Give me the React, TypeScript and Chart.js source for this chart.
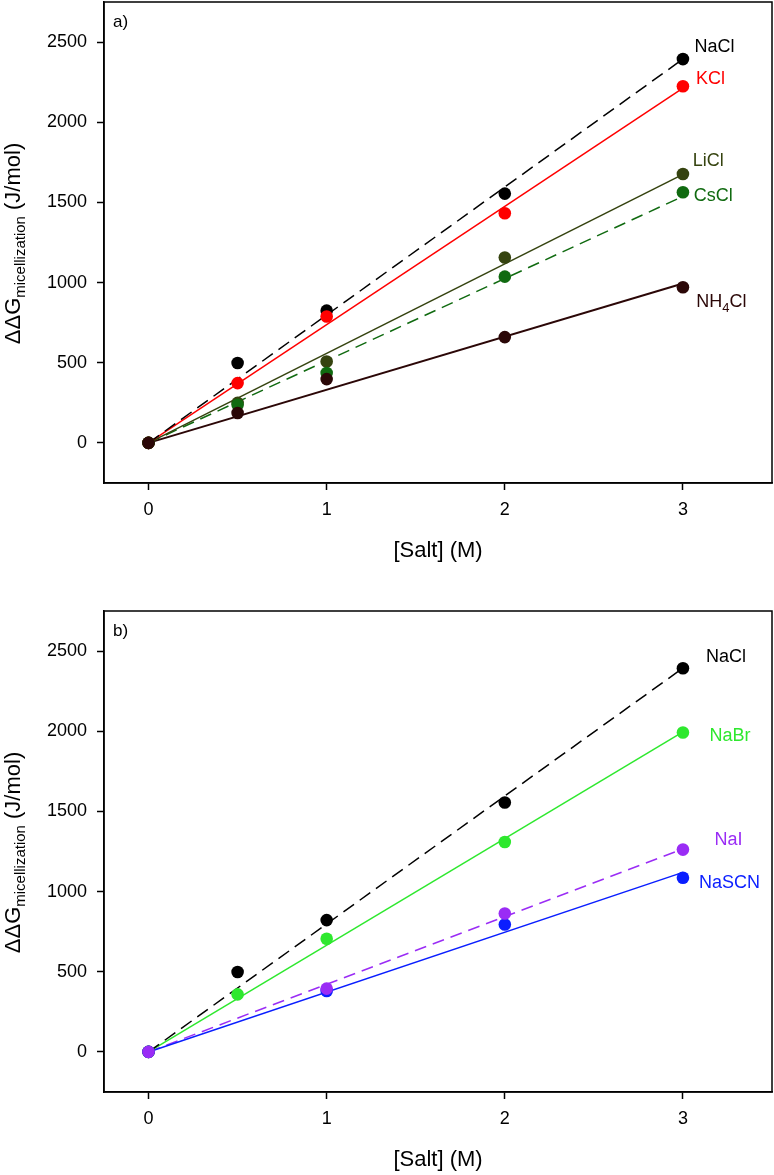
import { useEffect, useRef } from "react";
import { Chart, registerables } from "chart.js";

Chart.register(...registerables);

const FONT = '"Liberation Sans", Arial, Helvetica, sans-serif';

// ---------- data ----------
const saltA = [0, 0.5, 1, 2, 3];
const naclA = [0, 498, 825, 1555, 2394];
const kclA = [0, 373, 788, 1432, 2225];
const liclA = [0, 250, 508, 1156, 1677];
const csclA = [0, 238, 436, 1037, 1563];
const nh4clA = [0, 187, 398, 660, 971];

const saltB = [0, 0.5, 1, 2, 3];
const naclB = [0, 498, 822, 1556, 2393];
const nabrB = [0, 359, 706, 1309, 1992];
const naiB = [0, null, 395, 863, 1262];
const nascnB = [0, null, 380, 795, 1086];

// fitted straight lines, read at x = 0 and x = 3
const fitX = [0, 3];
const naclFitA = [0, 2394];
const kclFitA = [0, 2213];
const liclFitA = [0, 1675];
const csclFitA = [0, 1538];
const nh4clFitA = [0, 994];
const naclFitB = [0, 2394];
const nabrFitB = [0, 1996];
const naiFitB = [0, 1266];
const nascnFitB = [0, 1120];

const yTicks = [0, 500, 1000, 1500, 2000, 2500];
const xTicks = [0, 1, 2, 3];

// ---------- styles ----------
type Part = { t: string; sub?: boolean };
type Series = {
  label: Part[];
  color: string;
  x: number[];
  y: (number | null)[];
  fit: number[];
  dash: number[];
  lw: number;
  order: number;
  dx: number;
  dy: number;
};

const seriesA: Series[] = [
  { label: [{ t: "NaCl" }], color: "#000000", x: saltA, y: naclA, fit: naclFitA, dash: [13, 7], lw: 1.5, order: 10, dx: 11.5, dy: -7 },
  { label: [{ t: "KCl" }], color: "#ff0000", x: saltA, y: kclA, fit: kclFitA, dash: [], lw: 1.5, order: 9, dx: 13, dy: -2.5 },
  { label: [{ t: "LiCl" }], color: "#35430f", x: saltA, y: liclA, fit: liclFitA, dash: [], lw: 1.5, order: 8, dx: 9.7, dy: -8 },
  { label: [{ t: "CsCl" }], color: "#106a10", x: saltA, y: csclA, fit: csclFitA, dash: [12, 7], lw: 1.5, order: 7, dx: 10.7, dy: 9 },
  { label: [{ t: "NH" }, { t: "4", sub: true }, { t: "Cl" }], color: "#2b0707", x: saltA, y: nh4clA, fit: nh4clFitA, dash: [], lw: 2, order: 6, dx: 13.3, dy: 19.5 },
];

const seriesB: Series[] = [
  { label: [{ t: "NaCl" }], color: "#000000", x: saltB, y: naclB, fit: naclFitB, dash: [13, 7], lw: 1.5, order: 10, dx: 23, dy: -6 },
  { label: [{ t: "NaBr" }], color: "#2ee82e", x: saltB, y: nabrB, fit: nabrFitB, dash: [], lw: 1.5, order: 9, dx: 26.5, dy: 8.3 },
  { label: [{ t: "NaSCN" }], color: "#0a1eff", x: saltB, y: nascnB, fit: nascnFitB, dash: [], lw: 1.5, order: 8, dx: 16, dy: 10.7 },
  { label: [{ t: "NaI" }], color: "#9a2cf5", x: saltB, y: naiB, fit: naiFitB, dash: [12, 7], lw: 1.5, order: 7, dx: 31.5, dy: -4.5 },
];

// plot box inside each canvas
const BOX = { left: 104, top: 2, right: 772, bottom: 483 };

function drawParts(ctx: CanvasRenderingContext2D, parts: Part[], x: number, y: number, size: number, subSize: number, subDrop: number) {
  let cx = x;
  for (const p of parts) {
    if (p.sub) {
      ctx.font = `${subSize}px ${FONT}`;
      ctx.fillText(p.t, cx, y + subDrop);
    } else {
      ctx.font = `${size}px ${FONT}`;
      ctx.fillText(p.t, cx, y);
    }
    cx += ctx.measureText(p.t).width;
  }
}

function partsWidth(ctx: CanvasRenderingContext2D, parts: Part[], size: number, subSize: number) {
  let w = 0;
  for (const p of parts) {
    ctx.font = `${p.sub ? subSize : size}px ${FONT}`;
    w += ctx.measureText(p.t).width;
  }
  return w;
}

function makePlugin(letter: string, series: Series[]) {
  return {
    id: "decor" + letter,
    afterLayout(chart: any) {
      const ca = chart.chartArea;
      ca.left = BOX.left;
      ca.top = BOX.top;
      ca.right = BOX.right;
      ca.bottom = BOX.bottom;
      ca.width = BOX.right - BOX.left;
      ca.height = BOX.bottom - BOX.top;
      const xs = chart.scales.x;
      const ys = chart.scales.y;
      xs.left = BOX.left;
      xs.right = BOX.right;
      xs.width = BOX.right - BOX.left;
      xs.top = BOX.bottom;
      xs.bottom = chart.height;
      xs.height = chart.height - BOX.bottom;
      xs.configure();
      ys.left = 0;
      ys.right = BOX.left;
      ys.width = BOX.left;
      ys.top = BOX.top;
      ys.bottom = BOX.bottom;
      ys.height = BOX.bottom - BOX.top;
      ys.configure();
    },
    afterDraw(chart: any) {
      const { ctx, chartArea } = chart;
      const xs = chart.scales.x;
      const ys = chart.scales.y;
      ctx.save();
      // frame
      ctx.strokeStyle = "#000";
      ctx.lineWidth = 1.5;
      ctx.strokeRect(chartArea.left, chartArea.top, chartArea.right - chartArea.left, chartArea.bottom - chartArea.top);

      ctx.textAlign = "left";
      ctx.textBaseline = "alphabetic";
      // panel letter
      ctx.fillStyle = "#000";
      ctx.font = `17px ${FONT}`;
      ctx.fillText(letter, chartArea.left + 9, chartArea.top + 24.5);

      // series labels
      for (const s of series) {
        const lastIdx = s.x.length - 1;
        const px = xs.getPixelForValue(s.x[lastIdx]);
        const py = ys.getPixelForValue(s.y[lastIdx] as number);
        ctx.fillStyle = s.color;
        drawParts(ctx, s.label, px + s.dx, py + s.dy, 18, 13, 5);
      }

      // x title
      ctx.fillStyle = "#000";
      ctx.font = `22px ${FONT}`;
      ctx.textAlign = "center";
      ctx.fillText("[Salt] (M)", (chartArea.left + chartArea.right) / 2, chartArea.bottom + 74);

      // y title (rotated, with subscript)
      const yParts: Part[] = [{ t: "ΔΔG" }, { t: "micellization", sub: true }, { t: " (J/mol)" }];
      ctx.textAlign = "left";
      const w = partsWidth(ctx, yParts, 22, 15);
      const cy = (chartArea.top + chartArea.bottom) / 2 + 1;
      ctx.translate(19.5, cy);
      ctx.rotate(-Math.PI / 2);
      drawParts(ctx, yParts, -w / 2, 0, 22, 15, 5.5);
      ctx.restore();
    },
  };
}

function buildConfig(letter: string, series: Series[], xHeight: number) {
  const datasets: any[] = [];
  for (const s of series) {
    datasets.push({
      data: fitX.map((xv, i) => ({ x: xv, y: s.fit[i] })),
      showLine: true,
      borderColor: s.color,
      borderWidth: s.lw,
      borderDash: s.dash,
      pointRadius: 0,
      fill: false,
      order: 100,
    });
  }
  for (const s of series) {
    datasets.push({
      data: s.x.map((xv, i) => ({ x: xv, y: s.y[i] })).filter((p) => p.y !== null),
      showLine: false,
      backgroundColor: s.color,
      borderColor: s.color,
      borderWidth: 0,
      pointRadius: 6.3,
      pointHoverRadius: 6.3,
      order: s.order,
    });
  }
  return {
    type: "scatter" as const,
    data: { datasets },
    plugins: [makePlugin(letter, series)],
    options: {
      animation: false as const,
      responsive: false,
      devicePixelRatio: 1,
      layout: { padding: { left: 0, top: 2, right: 2, bottom: 0 } },
      plugins: { legend: { display: false }, tooltip: { enabled: false }, title: { display: false } },
      events: [],
      scales: {
        x: {
          type: "linear" as const,
          min: -0.25,
          max: 3.5,
          afterBuildTicks: (s: any) => {
            s.ticks = xTicks.map((v) => ({ value: v }));
          },
          afterFit: (s: any) => {
            s.height = xHeight;
            s.paddingLeft = 0;
            s.paddingRight = 0;
            s.paddingTop = 0;
            s.paddingBottom = 0;
          },
          grid: { drawOnChartArea: false, drawTicks: true, tickLength: 7, tickColor: "#000", tickWidth: 1.5 },
          border: { display: true, color: "#000", width: 1.5 },
          ticks: { color: "#000", font: { family: FONT, size: 18 }, padding: 9, callback: (v: any) => String(v), maxRotation: 0 },
        },
        y: {
          type: "linear" as const,
          min: -250,
          max: 2750,
          afterBuildTicks: (s: any) => {
            s.ticks = yTicks.map((v) => ({ value: v }));
          },
          afterFit: (s: any) => {
            s.width = 104;
            s.paddingLeft = 0;
            s.paddingRight = 0;
            s.paddingTop = 0;
            s.paddingBottom = 0;
          },
          grid: { drawOnChartArea: false, drawTicks: true, tickLength: 7, tickColor: "#000", tickWidth: 1.5 },
          border: { display: true, color: "#000", width: 1.5 },
          ticks: { color: "#000", font: { family: FONT, size: 18 }, padding: 10, callback: (v: any) => String(v) },
        },
      },
    },
  };
}

function Panel({ letter, series, top, height }: { letter: string; series: Series[]; top: number; height: number }) {
  const ref = useRef<HTMLCanvasElement | null>(null);
  useEffect(() => {
    if (!ref.current) return;
    const chart = new Chart(ref.current, buildConfig(letter, series, height - BOX.bottom) as any);
    return () => chart.destroy();
  }, [letter, series, height]);
  return (
    <canvas
      ref={ref}
      width={774}
      height={height}
      style={{ position: "absolute", left: 0, top, width: 774, height, display: "block" }}
    />
  );
}

export default function App() {
  return (
    <div style={{ position: "absolute", left: 0, top: 0, width: 774, height: 1175, background: "#fff", overflow: "hidden" }}>
      <Panel letter="a)" series={seriesA} top={0} height={590} />
      <Panel letter="b)" series={seriesB} top={609} height={566} />
    </div>
  );
}
